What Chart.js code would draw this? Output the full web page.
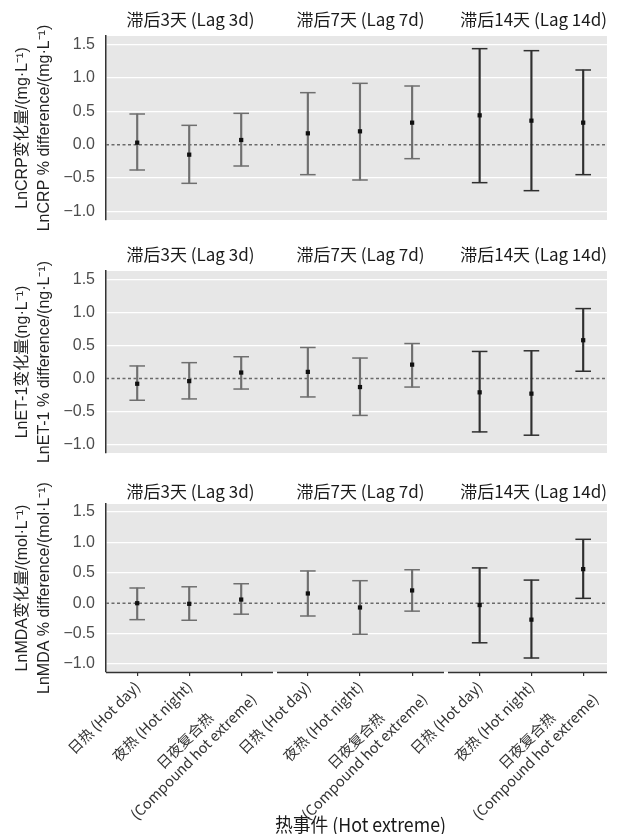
<!DOCTYPE html>
<html>
<head>
<meta charset="utf-8">
<script src="https://cdn.jsdelivr.net/npm/chart.js@4.4.1/dist/chart.umd.min.js"></script>
<style>
  html, body { margin: 0; padding: 0; background: #fff; }
  #wrap { position: relative; width: 618px; height: 834px; overflow: hidden; }
  .cell { position: absolute; left: 0; width: 618px; }
</style>
</head>
<body>
<div id="wrap"></div>
<script>
// facets, categories and axis text
const lagTitles = ['滞后3天 (Lag 3d)', '滞后7天 (Lag 7d)', '滞后14天 (Lag 14d)'];
const eventLabels = ['日热 (Hot day)', '夜热 (Hot night)', ['日夜复合热\u3000\u3000\u3000', '(Compound hot extreme)']];
const yTitles = [
  ['LnCRP变化量/(mg·L⁻¹)', 'LnCRP % difference/(mg·L⁻¹)'],
  ['LnET-1变化量(ng·L⁻¹)', 'LnET-1 % difference/(ng·L⁻¹)'],
  ['LnMDA变化量/(mol·L⁻¹)', 'LnMDA % difference/(mol·L⁻¹)'],
];
const xTitle = '热事件 (Hot extreme)';

// values: lag 3d (hot day, hot night, compound), lag 7d (...), lag 14d (...)
const crpMean = [0.03, -0.15, 0.07, 0.17, 0.20, 0.33, 0.44, 0.36, 0.33];
const crpLow  = [-0.38, -0.58, -0.32, -0.45, -0.53, -0.21, -0.57, -0.69, -0.45];
const crpHigh = [0.46, 0.29, 0.47, 0.78, 0.92, 0.88, 1.44, 1.41, 1.12];

const et1Mean = [-0.08, -0.04, 0.09, 0.10, -0.13, 0.21, -0.21, -0.23, 0.58];
const et1Low  = [-0.33, -0.31, -0.16, -0.28, -0.56, -0.13, -0.81, -0.86, 0.11];
const et1High = [0.19, 0.24, 0.33, 0.47, 0.31, 0.53, 0.41, 0.42, 1.06];

const mdaMean = [0.00, -0.01, 0.06, 0.16, -0.07, 0.21, -0.03, -0.27, 0.56];
const mdaLow  = [-0.27, -0.28, -0.18, -0.21, -0.51, -0.13, -0.65, -0.90, 0.08];
const mdaHigh = [0.25, 0.27, 0.32, 0.53, 0.37, 0.55, 0.58, 0.38, 1.05];

const rows = [
  { mean: crpMean, low: crpLow, high: crpHigh },
  { mean: et1Mean, low: et1Low, high: et1High },
  { mean: mdaMean, low: mdaLow, high: mdaHigh },
];

const yMin = -1.13, yMax = 1.63;

// layout
const colEdges = [106, 275, 446, 607];
const xRanges = [[-0.6, 2.65], [-0.63, 2.65], [-0.65, 2.46]];
const rowTop = [6, 241, 478];
const rowHeight = [244, 242, 356];
const rowPadBottom = [30, 30, 0];
const rowTitlePad = [[3.8, 5.8], [3.8, 5.8], [3.5, 2.1]];
const barColors = ['#6f6f6f', '#6f6f6f', '#2f2f2f'];

const fmt = v => (v < 0 ? '\u2212' : '') + Math.abs(v).toFixed(1);

const panelBg = {
  id: 'panelBg',
  beforeDraw(chart) {
    const a = chart.chartArea, ctx = chart.ctx;
    ctx.save();
    ctx.fillStyle = '#e7e7e7';
    ctx.fillRect(a.left, a.top, a.right - a.left, a.bottom - a.top);
    ctx.restore();
  }
};

const refLines = {
  id: 'refLines',
  beforeDatasetsDraw(chart, args, opts) {
    const a = chart.chartArea, ctx = chart.ctx;
    const l = a.left + (opts.col === 0 ? 0 : 2);
    const r = a.right - (opts.col === 2 ? 0 : 2);
    const y0 = chart.scales.y.getPixelForValue(0);
    ctx.save();
    ctx.strokeStyle = '#6a6a6a';
    ctx.lineWidth = 1.5;
    ctx.setLineDash([3, 2.5]);
    ctx.beginPath();
    ctx.moveTo(l, y0);
    ctx.lineTo(r, y0);
    ctx.stroke();
    if (opts.bottom) {
      ctx.setLineDash([]);
      ctx.strokeStyle = '#333';
      ctx.beginPath();
      ctx.moveTo(l, a.bottom + 0.5);
      ctx.lineTo(r, a.bottom + 0.5);
      ctx.stroke();
    }
    ctx.restore();
  }
};

// two-line rotated y title, centred on the panel
const yTitle = {
  id: 'yTitle',
  afterDraw(chart, args, opts) {
    if (!opts.lines) return;
    const a = chart.chartArea, ctx = chart.ctx;
    const cy = (a.top + a.bottom) / 2;
    ctx.save();
    ctx.fillStyle = '#222';
    ctx.font = '16px "Liberation Sans", "Noto Sans CJK SC"';
    ctx.textAlign = 'center';
    ctx.textBaseline = 'middle';
    opts.lines.forEach((t, i) => {
      ctx.save();
      ctx.translate(23 + 22 * i, cy);
      ctx.rotate(-Math.PI / 2);
      ctx.fillText(t, 0, 0);
      ctx.restore();
    });
    ctx.restore();
  }
};

const wrap = document.getElementById('wrap');

function makeChart(r, c) {
  const div = document.createElement('div');
  div.className = 'cell';
  div.style.top = rowTop[r] + 'px';
  div.style.height = rowHeight[r] + 'px';
  const cv = document.createElement('canvas');
  div.appendChild(cv);
  wrap.appendChild(div);

  const d = rows[r];
  const idx = [0, 1, 2].map(i => c * 3 + i);
  const mean = idx.map(i => d.mean[i]);
  const low = idx.map(i => d.low[i]);
  const high = idx.map(i => d.high[i]);
  const col = barColors[c];
  const pts = arr => arr.map((v, i) => ({ x: i, y: v }));

  new Chart(cv, {
    type: 'scatter',
    data: {
      datasets: [
        {
          data: pts(mean),
          pointStyle: 'rect',
          pointRadius: 3,
          pointBackgroundColor: '#111',
          pointBorderWidth: 0,
          order: 0,
        },
        {
          data: pts(low).concat(pts(high)),
          pointStyle: 'line',
          pointRadius: 7.8,
          pointBorderColor: col,
          pointBorderWidth: 1.5,
          order: 1,
        },
        {
          type: 'bar',
          data: low.map((v, i) => ({ x: i, y: [v, high[i]] })),
          barThickness: 1.5,
          backgroundColor: col,
          borderWidth: 0,
          order: 2,
        },
      ]
    },
    options: {
      responsive: true,
      maintainAspectRatio: false,
      animation: false,
      events: [],
      layout: { padding: { left: 0, right: 618 - colEdges[c + 1], top: 0, bottom: rowPadBottom[r] } },
      plugins: {
        legend: { display: false },
        tooltip: { enabled: false },
        title: {
          display: true,
          text: lagTitles[c],
          fullSize: false,
          align: c === 2 ? 'end' : 'center',
          color: '#1a1a1a',
          font: { family: 'Noto Sans CJK SC', size: 17, weight: 'normal', lineHeight: 1.2 },
          padding: { top: rowTitlePad[r][0], bottom: rowTitlePad[r][1] },
        },
        refLines: { col: c, bottom: r === 2 },
        yTitle: { lines: c === 0 ? yTitles[r] : null },
      },
      scales: {
        x: {
          type: 'linear',
          min: xRanges[c][0],
          max: xRanges[c][1],
          offset: false,
          display: r === 2,
          afterBuildTicks: s => { s.ticks = eventLabels.map((_, i) => ({ value: i })); },
          afterFit: s => {
            if (r !== 2) return;
            s.height = 162;
            s.paddingLeft = 0;
            s.paddingRight = 0;
          },
          grid: { display: true, offset: false, drawOnChartArea: false, drawTicks: true, tickLength: 4, color: '#333', lineWidth: 1.2 },
          border: { display: false },
          ticks: {
            autoSkip: false,
            maxRotation: 45,
            minRotation: 45,
            padding: 2,
            color: '#333',
            font: { family: 'Noto Sans CJK SC', size: 14.5, lineHeight: 1.2 },
            callback: v => eventLabels[v],
          },
          title: {
            display: r === 2 && c === 1,
            text: xTitle,
            color: '#1a1a1a',
            font: { family: 'Noto Sans CJK SC', size: 19, lineHeight: 1 },
            padding: { top: 0, bottom: 0 },
          },
        },
        y: {
          min: yMin,
          max: yMax,
          afterFit: s => {
            s.width = colEdges[c];
            s.paddingTop = 0;
            s.paddingBottom = 0;
          },
          ticks: {
            display: c === 0,
            stepSize: 0.5,
            includeBounds: false,
            padding: 11,
            color: '#4d4d4d',
            font: { family: 'Liberation Sans', size: 16 },
            callback: v => fmt(v),
          },
          grid: {
            color: ctx => (ctx.tick && Math.abs(ctx.tick.value) < 1e-9) ? 'rgba(0,0,0,0)' : '#ffffff',
            lineWidth: 1.2,
            drawTicks: false,
          },
          border: { display: c === 0, color: '#333', width: 1.5 },
        },
      },
    },
    plugins: [panelBg, refLines, yTitle],
  });
}

for (let r = 0; r < 3; r++) {
  for (let c = 0; c < 3; c++) makeChart(r, c);
}
</script>
</body>
</html>
